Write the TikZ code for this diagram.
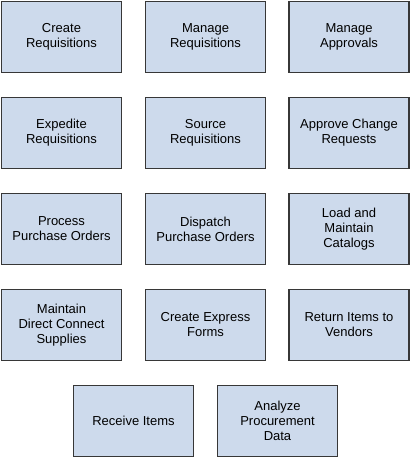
\documentclass[tikz,border=0pt]{standalone}
\usepackage{fontspec}
\setmainfont{Liberation Sans}
\definecolor{boxfill}{RGB}{205,218,236}
\definecolor{boxline}{RGB}{55,55,55}
\tikzset{
  task/.style={draw=boxline,fill=boxfill,line width=1.3pt,minimum width=120pt,minimum height=71pt,
    inner sep=0pt,align=center,font=\fontsize{13pt}{15pt}\selectfont}
}
\begin{document}
\begin{tikzpicture}[x=1pt,y=-1pt]
  \useasboundingbox (0,0) rectangle (411,459);
  % row 1
  \node[task] (create) at (61.5,37) {Create\\Requisitions};
  \node[task] (manage) at (205.5,37) {Manage\\Requisitions};
  \node[task] (approvals) at (349,37) {Manage\\Approvals};
  % row 2
  \node[task] (expedite) at (61.5,133) {Expedite\\Requisitions};
  \node[task] (source) at (205.5,133) {Source\\Requisitions};
  \node[task] (change) at (349,133) {Approve Change\\Requests};
  % row 3
  \node[task] (process) at (61.5,229) {Process\\Purchase Orders};
  \node[task] (dispatch) at (205.5,229) {Dispatch\\Purchase Orders};
  \node[task] (catalogs) at (349,229) {Load and\\Maintain\\Catalogs};
  % row 4
  \node[task] (direct) at (61.5,325) {Maintain\\Direct Connect\\Supplies};
  \node[task] (express) at (205.5,325) {Create Express\\Forms};
  \node[task] (return) at (349,325) {Return Items to\\Vendors};
  % row 5
  \node[task] (receive) at (133.5,421) {Receive Items};
  \node[task] (analyze) at (277.5,421) {Analyze\\Procurement\\Data};
\end{tikzpicture}
\end{document}
